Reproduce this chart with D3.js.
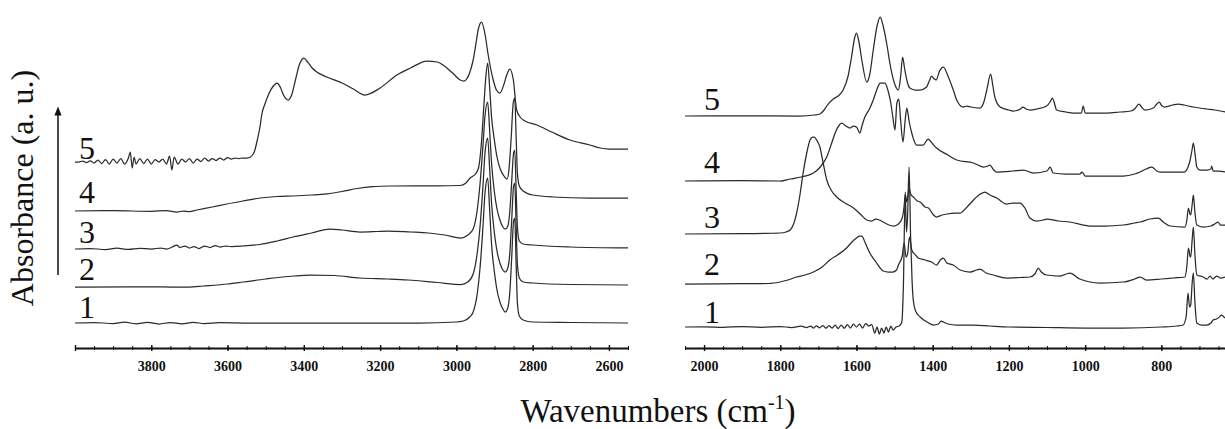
<!DOCTYPE html>
<html>
<head>
<meta charset="utf-8">
<script src="https://cdn.jsdelivr.net/npm/d3@7"></script>
<style>
  body { margin: 0; background: #fff; }
  svg { display: block; }
</style>
</head>
<body>
<svg id="chart" width="1225" height="429"></svg>
<script>
// spectra labels, bottom to top
var labels = ["1", "2", "3", "4", "5"]

// stacking offsets (absorbance units, 1 unit = 100 px)
var leftOffsets = [0.25, 0.61, 0.99, 1.37, 1.86]
var rightOffsets = [0.21, 0.64, 1.14, 1.67, 2.32]

// tick values
var leftTicks = [4000, 3800, 3600, 3400, 3200, 3000, 2800, 2600]
var rightTicks = [2000, 1800, 1600, 1400, 1200, 1000, 800]
var leftMinor = d3.range(4000, 2549, -50)
var rightMinor = d3.range(2050, 632, -50)

// left panel (4000 - 2550 cm-1), [wavenumber, absorbance above own baseline]
var left1 = [[4000,0],[3950,0.005],[3900,-0.005],[3870,0.008],[3840,-0.008],[3810,0.006],[3780,-0.01],[3750,0.005],[3720,-0.008],[3690,0.006],[3660,-0.006],[3620,0.003],[3550,0],[3300,0],[3100,0],[3000,0.01],[2982,0.02],[2965,0.06],[2956,0.11],[2945,0.3],[2938,0.55],[2930,0.98],[2925,1.3],[2918,1.45],[2913,1.15],[2908,0.8],[2900,0.5],[2894,0.34],[2885,0.2],[2878,0.14],[2872,0.11],[2866,0.14],[2860,0.3],[2855,0.65],[2850,1.02],[2847,1.05],[2843,0.55],[2840,0.2],[2835,0.07],[2825,0.03],[2800,0.01],[2700,0.005],[2550,0]]

var left2 = [[4000,0],[3850,0.002],[3750,0],[3700,0],[3664,0.01],[3600,0.03],[3559,0.05],[3500,0.08],[3428,0.11],[3384,0.12],[3320,0.115],[3253,0.09],[3180,0.08],[3127,0.07],[3050,0.045],[2988,0.025],[2970,0.05],[2956,0.13],[2945,0.35],[2938,0.6],[2930,1.03],[2925,1.34],[2918,1.49],[2913,1.2],[2908,0.85],[2900,0.53],[2894,0.37],[2885,0.23],[2878,0.17],[2872,0.15],[2866,0.18],[2860,0.33],[2855,0.67],[2850,1.01],[2847,1.04],[2843,0.57],[2840,0.23],[2835,0.09],[2825,0.05],[2800,0.04],[2700,0.025],[2550,0.02]]

var left3 = [[4000,0],[3960,0.005],[3920,-0.005],[3890,0.008],[3860,-0.004],[3830,0.006],[3800,0],[3775,0.01],[3760,0],[3745,0.02],[3733,0.04],[3725,0.015],[3712,0.03],[3700,0.01],[3688,0.025],[3675,0.005],[3660,0.03],[3646,0.015],[3632,0.035],[3620,0.02],[3605,0.03],[3590,0.025],[3560,0.03],[3515,0.045],[3470,0.08],[3428,0.12],[3380,0.16],[3331,0.2],[3300,0.19],[3253,0.17],[3210,0.175],[3180,0.18],[3120,0.17],[3073,0.16],[3030,0.14],[2988,0.11],[2970,0.14],[2956,0.2],[2945,0.4],[2938,0.65],[2930,1.05],[2925,1.33],[2918,1.47],[2913,1.2],[2908,0.87],[2900,0.56],[2894,0.41],[2885,0.28],[2878,0.22],[2872,0.2],[2866,0.22],[2860,0.37],[2855,0.67],[2850,0.96],[2847,0.99],[2843,0.55],[2840,0.22],[2835,0.08],[2825,0.05],[2800,0.04],[2700,0.02],[2550,0.01]]

var left4 = [[4000,0],[3900,0.003],[3800,-0.003],[3760,0.004],[3733,-0.01],[3715,0],[3700,-0.006],[3680,0.01],[3640,0.04],[3602,0.07],[3560,0.1],[3515,0.13],[3470,0.145],[3428,0.15],[3380,0.16],[3340,0.172],[3300,0.195],[3260,0.225],[3220,0.243],[3170,0.25],[3100,0.252],[3050,0.252],[2990,0.255],[2975,0.28],[2964,0.33],[2950,0.37],[2942,0.43],[2935,0.65],[2928,1.05],[2923,1.33],[2918,1.48],[2913,1.25],[2908,0.95],[2900,0.7],[2894,0.55],[2885,0.42],[2875,0.35],[2867,0.32],[2862,0.42],[2856,0.75],[2851,1.08],[2847,1.13],[2843,0.7],[2840,0.38],[2835,0.25],[2825,0.2],[2800,0.16],[2746,0.14],[2650,0.13],[2550,0.13]]

var left5 = [[4000,0],[3990,0],[3980,0.01],[3970,-0.005],[3960,0.012],[3950,-0.01],[3940,0.02],[3930,-0.015],[3920,0.025],[3910,-0.02],[3900,0.03],[3890,-0.01],[3880,0.035],[3870,-0.02],[3860,0.04],[3855,0.1],[3850,-0.06],[3845,0.05],[3840,-0.02],[3830,0.035],[3820,-0.015],[3810,0.03],[3800,-0.02],[3790,0.025],[3780,0],[3770,0.03],[3760,-0.02],[3752,0.06],[3746,-0.08],[3740,0.05],[3730,-0.02],[3720,0.03],[3710,0],[3700,0.035],[3690,-0.01],[3680,0.03],[3670,0.005],[3660,0.04],[3650,0.01],[3640,0.035],[3630,0.015],[3620,0.04],[3610,0.02],[3600,0.045],[3590,0.03],[3580,0.04],[3570,0.035],[3560,0.04],[3549,0.04],[3540,0.05],[3530,0.1],[3522,0.22],[3515,0.35],[3510,0.48],[3502,0.58],[3492,0.68],[3480,0.76],[3470,0.79],[3462,0.75],[3452,0.66],[3441,0.62],[3432,0.67],[3422,0.82],[3412,0.97],[3400,1.04],[3390,1],[3378,0.94],[3366,0.9],[3340,0.85],[3300,0.79],[3270,0.73],[3240,0.67],[3200,0.74],[3156,0.87],[3120,0.94],[3077,1.01],[3050,1],[3035,0.97],[3010,0.89],[2990,0.82],[2980,0.81],[2973,0.83],[2962,0.93],[2956,1.02],[2948,1.2],[2943,1.32],[2934,1.4],[2925,1.28],[2917,1.08],[2904,0.83],[2895,0.72],[2886,0.69],[2875,0.78],[2868,0.87],[2860,0.93],[2851,0.83],[2842,0.52],[2833,0.45],[2820,0.41],[2789,0.37],[2750,0.3],[2702,0.22],[2650,0.17],[2623,0.14],[2600,0.13],[2550,0.13]]

// right panel (2050 - 633 cm-1)
var right1 = [[2050,0],[2000,0.002],[1950,-0.003],[1900,0.004],[1850,-0.003],[1800,0.005],[1770,-0.005],[1745,0.008],[1731,-0.006],[1720,0.01],[1713,-0.01],[1705,0.012],[1697,-0.008],[1688,0.015],[1680,-0.012],[1672,0.014],[1664,-0.01],[1656,0.018],[1648,-0.015],[1640,0.02],[1632,-0.012],[1624,0.025],[1616,-0.01],[1608,0.03],[1600,0],[1592,0.03],[1584,-0.01],[1576,0.035],[1568,0.01],[1560,0.025],[1552,-0.06],[1546,0],[1540,-0.07],[1534,-0.01],[1528,-0.06],[1522,0],[1516,-0.05],[1510,0.01],[1504,-0.03],[1496,0],[1488,0.01],[1481,0.05],[1477,0.4],[1472,1.35],[1469,0.95],[1466,1.1],[1462,1.6],[1458,0.9],[1454,0.45],[1451,0.27],[1445,0.16],[1433,0.1],[1415,0.05],[1398,0.02],[1385,0.03],[1378,0.06],[1372,0.05],[1360,0.03],[1337,0.02],[1293,0.02],[1250,0.01],[1200,0],[1100,-0.005],[1000,-0.01],[900,-0.01],[800,0],[760,0.01],[743,0.02],[735,0.1],[730,0.34],[726,0.2],[723,0.22],[719,0.45],[716,0.54],[712,0.25],[707,0.04],[695,0.02],[681,0.02],[670,0.04],[664,0.07],[655,0.08],[648,0.1],[642,0.12],[636,0.1],[633,0.09]]

var right2 = [[2050,0],[1900,0.003],[1830,0.005],[1801,0.02],[1780,0.04],[1757,0.07],[1735,0.09],[1713,0.12],[1690,0.17],[1670,0.24],[1650,0.29],[1626,0.36],[1612,0.42],[1600,0.46],[1592,0.48],[1586,0.48],[1578,0.42],[1565,0.31],[1549,0.22],[1538,0.16],[1530,0.13],[1516,0.12],[1505,0.12],[1495,0.14],[1490,0.19],[1480,0.28],[1475,0.41],[1470,0.27],[1466,0.3],[1461,0.47],[1455,0.34],[1445,0.29],[1438,0.26],[1420,0.24],[1403,0.22],[1390,0.19],[1380,0.24],[1372,0.26],[1363,0.21],[1346,0.19],[1328,0.14],[1302,0.12],[1285,0.14],[1276,0.15],[1260,0.11],[1241,0.09],[1206,0.06],[1170,0.065],[1145,0.07],[1132,0.1],[1123,0.16],[1115,0.12],[1101,0.09],[1066,0.08],[1040,0.11],[1014,0.05],[961,0.01],[900,0.02],[870,0.05],[856,0.07],[839,0.04],[800,0.05],[769,0.06],[738,0.07],[733,0.18],[729,0.36],[725,0.28],[723,0.27],[719,0.45],[716,0.57],[712,0.3],[707,0.09],[690,0.07],[680,0.05],[672,0.08],[665,0.05],[655,0.08],[645,0.06],[633,0.07]]

var right3 = [[2050,0],[1900,0.003],[1800,0.01],[1785,0.02],[1774,0.04],[1765,0.1],[1757,0.21],[1748,0.4],[1740,0.61],[1730,0.82],[1722,0.94],[1715,0.97],[1711,0.97],[1703,0.93],[1696,0.87],[1688,0.72],[1678,0.54],[1665,0.43],[1652,0.37],[1630,0.31],[1608,0.26],[1590,0.2],[1573,0.14],[1560,0.13],[1550,0.15],[1540,0.14],[1530,0.12],[1515,0.09],[1502,0.08],[1490,0.1],[1480,0.16],[1475,0.28],[1472,0.4],[1468,0.32],[1462,0.46],[1458,0.4],[1451,0.37],[1440,0.33],[1433,0.32],[1420,0.27],[1411,0.26],[1400,0.2],[1390,0.17],[1375,0.19],[1363,0.2],[1340,0.21],[1328,0.21],[1310,0.27],[1293,0.34],[1275,0.4],[1263,0.42],[1250,0.39],[1232,0.36],[1206,0.3],[1190,0.31],[1171,0.31],[1158,0.26],[1145,0.16],[1127,0.13],[1110,0.14],[1101,0.15],[1070,0.13],[1040,0.12],[987,0.08],[950,0.08],[900,0.09],[870,0.11],[856,0.12],[830,0.15],[808,0.16],[795,0.12],[777,0.08],[738,0.07],[733,0.14],[729,0.26],[725,0.2],[723,0.19],[719,0.3],[716,0.39],[712,0.22],[707,0.09],[690,0.07],[670,0.08],[660,0.1],[651,0.12],[645,0.09],[633,0.09]]

var right4 = [[2050,0],[1900,0.003],[1800,0],[1774,0.02],[1745,0.04],[1713,0.08],[1695,0.14],[1678,0.24],[1665,0.38],[1656,0.48],[1645,0.56],[1639,0.58],[1628,0.55],[1617,0.53],[1608,0.55],[1600,0.54],[1591,0.48],[1585,0.56],[1578,0.64],[1566,0.72],[1556,0.81],[1546,0.92],[1538,0.98],[1525,0.98],[1517,0.9],[1510,0.78],[1505,0.65],[1499,0.51],[1494,0.78],[1489,0.82],[1484,0.6],[1478,0.39],[1472,0.62],[1468,0.73],[1462,0.6],[1455,0.48],[1442,0.36],[1425,0.36],[1412,0.42],[1400,0.37],[1390,0.33],[1360,0.26],[1337,0.21],[1293,0.18],[1267,0.14],[1255,0.15],[1250,0.16],[1240,0.11],[1232,0.09],[1190,0.1],[1162,0.11],[1136,0.08],[1100,0.1],[1092,0.14],[1084,0.08],[1050,0.07],[1014,0.07],[1008,0.09],[1000,0.05],[950,0.05],[900,0.05],[870,0.07],[856,0.09],[840,0.12],[825,0.14],[812,0.1],[804,0.09],[770,0.09],[740,0.09],[730,0.14],[725,0.2],[720,0.3],[716,0.38],[711,0.25],[707,0.14],[699,0.11],[680,0.11],[670,0.12],[668,0.15],[664,0.1],[650,0.1],[633,0.09]]

var right5 = [[2050,0],[1900,0.002],[1750,0],[1710,0.01],[1696,0.02],[1685,0.06],[1678,0.1],[1661,0.17],[1648,0.2],[1635,0.26],[1622,0.4],[1613,0.59],[1605,0.78],[1600,0.83],[1594,0.75],[1586,0.56],[1573,0.34],[1565,0.42],[1556,0.66],[1546,0.9],[1538,0.99],[1530,0.9],[1521,0.73],[1512,0.52],[1503,0.36],[1490,0.26],[1484,0.4],[1479,0.59],[1474,0.48],[1468,0.36],[1460,0.28],[1445,0.26],[1433,0.26],[1416,0.29],[1408,0.36],[1403,0.4],[1396,0.37],[1391,0.36],[1382,0.45],[1372,0.49],[1360,0.4],[1346,0.26],[1337,0.16],[1320,0.09],[1310,0.1],[1300,0.09],[1276,0.08],[1265,0.15],[1258,0.26],[1248,0.42],[1242,0.3],[1237,0.19],[1223,0.09],[1200,0.06],[1188,0.05],[1170,0.07],[1164,0.09],[1155,0.07],[1145,0.06],[1127,0.07],[1101,0.1],[1092,0.14],[1086,0.18],[1080,0.12],[1075,0.06],[1050,0.04],[1031,0.03],[1010,0.03],[1005,0.1],[1000,0.03],[943,0.03],[909,0.04],[880,0.05],[870,0.07],[859,0.12],[850,0.08],[843,0.06],[821,0.08],[812,0.12],[806,0.14],[798,0.1],[791,0.09],[770,0.11],[756,0.12],[740,0.11],[730,0.1],[716,0.09],[700,0.08],[681,0.07],[660,0.06],[633,0.04]]

var leftSpectra = [left1, left2, left3, left4, left5]
var rightSpectra = [right1, right2, right3, right4, right5]

var svg = d3.select('#chart')
var lineColor = '#2a2a2a'
var serif = "'Liberation Serif', 'Times New Roman', serif"

var y = d3.scaleLinear().domain([0, 3.48]).range([348, 0])

var panels = [
  {x: d3.scaleLinear().domain([4000, 2550]).range([75, 628]), spectra: leftSpectra, offsets: leftOffsets,
   ticks: leftTicks, minor: leftMinor, labelX: 79, labelDy: [-5, -7, -6, -8, -3], hide: [4000]},
  {x: d3.scaleLinear().domain([2050, 633]).range([685, 1225]), spectra: rightSpectra, offsets: rightOffsets,
   ticks: rightTicks, minor: rightMinor, labelX: 704, labelDy: [-4, -9, -6, -8, -6], hide: []}
]

panels.forEach(function (p) {
  var line = d3.line()
    .x(function (d) { return p.x(d[0]) })
    .y(function (d) { return d[1] })
    .curve(d3.curveMonotoneX)

  p.spectra.forEach(function (s, i) {
    var off = p.offsets[i]
    svg.append('path')
      .attr('d', line(s.map(function (d) { return [d[0], y(d[1] + off)] })))
      .attr('fill', 'none')
      .attr('stroke', lineColor)
      .attr('stroke-width', 1.25)
      .attr('stroke-linejoin', 'round')

    svg.append('text')
      .attr('x', p.labelX)
      .attr('y', y(off) + p.labelDy[i])
      .style('font-family', serif)
      .style('font-size', '32px')
      .style('fill', '#111')
      .text(labels[i])
  })

  // minor ticks
  var minorAxis = svg.append('g')
    .attr('transform', 'translate(0,348)')
    .call(d3.axisBottom(p.x).tickValues(p.minor).tickSize(2).tickSizeOuter(0).tickFormat(''))
  minorAxis.select('.domain').remove()
  minorAxis.selectAll('.tick line').attr('y1', -2).attr('stroke', '#111')

  // major ticks + labels
  var ax = svg.append('g')
    .attr('transform', 'translate(0,348)')
    .call(d3.axisBottom(p.x).tickValues(p.ticks).tickSize(3).tickSizeOuter(0)
      .tickFormat(function (d) { return p.hide.indexOf(d) >= 0 ? '' : d }))
  ax.select('.domain').attr('stroke', '#111').attr('stroke-width', 2)
  ax.selectAll('.tick line').attr('y1', -3).attr('stroke', '#111').attr('stroke-width', 1.4)
  ax.selectAll('.tick text')
    .attr('y', 23)
    .attr('dy', 0)
    .style('font-family', serif)
    .style('font-weight', 'bold')
    .style('font-size', '14px')
    .style('fill', '#111')
})

// y axis label and arrow
svg.append('text')
  .attr('transform', 'translate(33,188) rotate(-90)')
  .attr('text-anchor', 'middle')
  .style('font-family', serif)
  .style('font-size', '32px')
  .style('fill', '#111')
  .text('Absorbance (a. u.)')

svg.append('defs').append('marker')
  .attr('id', 'arrowhead')
  .attr('viewBox', '0 0 10 10')
  .attr('refX', 5).attr('refY', 5)
  .attr('markerWidth', 6).attr('markerHeight', 6)
  .attr('orient', 'auto')
  .append('path').attr('d', 'M0,1 L10,5 L0,9 Z').attr('fill', '#111')

svg.append('line')
  .attr('x1', 58).attr('x2', 58)
  .attr('y1', 275).attr('y2', 111)
  .attr('stroke', '#111')
  .attr('stroke-width', 1.5)
  .attr('marker-end', 'url(#arrowhead)')

// x axis title
var title = svg.append('text')
  .attr('x', 658)
  .attr('y', 422)
  .attr('text-anchor', 'middle')
  .style('font-family', serif)
  .style('font-size', '33px')
  .style('fill', '#111')
title.append('tspan').text('Wavenumbers (cm')
title.append('tspan').attr('dy', -13).style('font-size', '20px').text('-1')
title.append('tspan').attr('dy', 13).text(')')
</script>
</body>
</html>
